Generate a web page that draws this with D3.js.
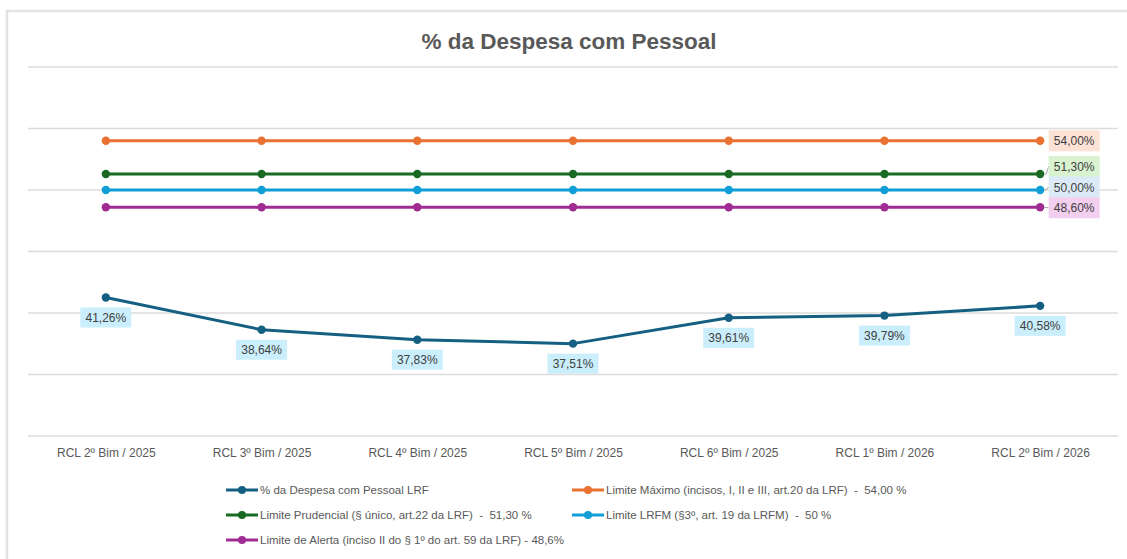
<!DOCTYPE html>
<html><head><meta charset="utf-8">
<script src="https://cdn.jsdelivr.net/npm/d3@7/dist/d3.min.js"></script>
<style>html,body{margin:0;padding:0;background:#fff;}svg{display:block;font-family:"Liberation Sans",Arial,sans-serif;}</style>
</head><body>
<svg id="chart" width="1127" height="559"></svg>
<script>
const categories = ["RCL 2º Bim / 2025","RCL 3º Bim / 2025","RCL 4º Bim / 2025","RCL 5º Bim / 2025","RCL 6º Bim / 2025","RCL 1º Bim / 2026","RCL 2º Bim / 2026"];
const despesa = [41.26, 38.64, 37.83, 37.51, 39.61, 39.79, 40.58];
const limiteMaximo = [54, 54, 54, 54, 54, 54, 54];
const limitePrudencial = [51.3, 51.3, 51.3, 51.3, 51.3, 51.3, 51.3];
const limiteLRFM = [50, 50, 50, 50, 50, 50, 50];
const limiteAlerta = [48.6, 48.6, 48.6, 48.6, 48.6, 48.6, 48.6];
const yTicks = [30, 35, 40, 45, 50, 55, 60];
const seriesNames = ["% da Despesa com Pessoal LRF","Limite Máximo (incisos, I, II e III, art.20 da LRF)  -  54,00 %","Limite Prudencial (§ único, art.22 da LRF)  -  51,30 %","Limite LRFM (§3º, art. 19 da LRFM)  -  50 %","Limite de Alerta (inciso II do § 1º do art. 59 da LRF) - 48,6%"];
const title = "% da Despesa com Pessoal";

const colors = ["#156082","#E97132","#196B24","#0F9ED5","#A02B93"];
const labelFills = ["#CAEEFB","#FBE2D5","#D9F2D0","#DCEAF7","#F2CEEF"];
const fmt = v => d3.format(".2f")(v).replace(".", ",") + "%";

const svg = d3.select("#chart");
svg.append("rect").attr("x",7).attr("y",11).attr("width",1150).attr("height",600)
  .attr("fill","#fff").attr("stroke","#e3e3e3").attr("stroke-width",2.5);

const x = d3.scalePoint().domain(categories).range([28,1118]).padding(0.5);
const y = d3.scaleLinear().domain([30,60]).range([436,67]);

svg.append("text").attr("x",569).attr("y",49).attr("text-anchor","middle")
  .attr("font-size",22.5).attr("font-weight","bold").attr("fill","#595959").text(title);

// gridlines
svg.append("g").selectAll("line").data(yTicks).join("line")
  .attr("x1",28).attr("x2",1118).attr("y1",d=>y(d)).attr("y2",d=>y(d))
  .attr("stroke","#dcdcdc").attr("stroke-width",1.5);

// x axis labels
const xAxis = d3.axisBottom(x).tickSize(0).tickPadding(0);
const gx = svg.append("g").attr("transform","translate(0,436)").call(xAxis);
gx.select(".domain").remove();
gx.selectAll("text").attr("font-size",12).attr("fill","#595959").attr("font-family","Liberation Sans, Arial, sans-serif").attr("dy",0).attr("y",21);

const allSeries = [despesa, limiteMaximo, limitePrudencial, limiteLRFM, limiteAlerta];
const line = d3.line().x((d,i)=>x(categories[i])).y(d=>y(d));
const drawOrder = [1,2,3,4,0];
drawOrder.forEach(si => {
  const data = allSeries[si];
  const g = svg.append("g");
  g.append("path").datum(data).attr("d",line).attr("fill","none")
    .attr("stroke",colors[si]).attr("stroke-width",3).attr("stroke-linejoin","round");
  g.selectAll("circle").data(data).join("circle")
    .attr("cx",(d,i)=>x(categories[i])).attr("cy",d=>y(d)).attr("r",4.2).attr("fill",colors[si]);
});

// labels for main series (below points)
const lg = svg.append("g");
despesa.forEach((v,i)=>{
  const cx = x(categories[i]), cy = y(v);
  lg.append("rect").attr("x",cx-25.5).attr("y",cy+10).attr("width",51).attr("height",20).attr("fill",labelFills[0]);
  lg.append("text").attr("x",cx).attr("y",cy+24.5).attr("text-anchor","middle")
    .attr("font-size",12).attr("fill","#404040").text(fmt(v));
});

// right end labels for limits
const limitIdx = [1,2,3,4];
const labelShift = [0,-7.5,-3,0.5];
const lastI = categories.length - 1;
limitIdx.forEach((si,k)=>{
  const v = allSeries[si][lastI];
  const px = x(categories[lastI]), py = y(v);
  const cy = py + labelShift[k];
  const bx = px + 8.5;
  if (Math.abs(labelShift[k]) > 1) {
    lg.append("path").attr("d",`M${px+4},${py} L${px+6},${py} L${bx},${cy}`)
      .attr("fill","none").attr("stroke","#a6a6a6").attr("stroke-width",1);
  } else if (k===3) {
    lg.append("line").attr("x1",px+4).attr("x2",bx).attr("y1",py).attr("y2",cy)
      .attr("stroke","#a6a6a6").attr("stroke-width",1);
  }
  lg.append("rect").attr("x",bx).attr("y",cy-10.5).attr("width",51).attr("height",21).attr("fill",labelFills[si]);
  lg.append("text").attr("x",bx+25.5).attr("y",cy+4.5).attr("text-anchor","middle")
    .attr("font-size",12).attr("fill","#404040").text(fmt(v));
});

// legend
const legendPos = [[226,490],[572,490],[226,515],[572,515],[226,540]];
const leg = svg.append("g");
seriesNames.forEach((name,si)=>{
  const [lx,ly] = legendPos[si];
  leg.append("line").attr("x1",lx).attr("x2",lx+32).attr("y1",ly).attr("y2",ly)
    .attr("stroke",colors[si]).attr("stroke-width",3);
  leg.append("circle").attr("cx",lx+16).attr("cy",ly).attr("r",4).attr("fill",colors[si]);
  leg.append("text").attr("x",lx+34).attr("y",ly+4.2).attr("font-size",11.5)
    .attr("fill","#595959").style("white-space","pre").text(name);
});
</script>
</body></html>
